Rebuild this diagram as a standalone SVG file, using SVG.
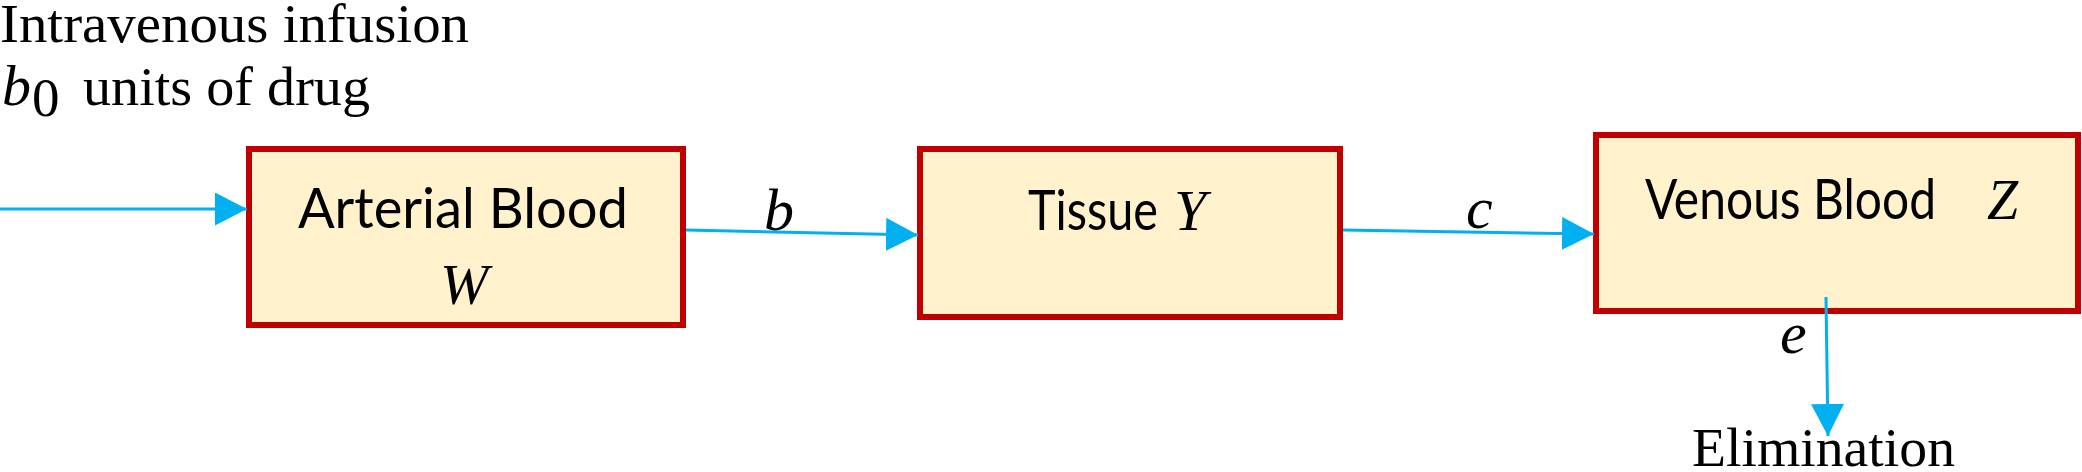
<svg xmlns="http://www.w3.org/2000/svg" width="2082" height="472" viewBox="0 0 2082 472">
<style>
.box{fill:#FFF2CC;stroke:#C00000;stroke-width:6}
.lbl{font-family:Lato,"Liberation Sans",sans-serif;font-size:57px;fill:#000}
.math{font-family:"Liberation Serif","DejaVu Serif",serif;font-style:italic;fill:#000}
.rom{font-family:"Liberation Serif","Times New Roman",serif;font-size:55px;fill:#000}
.conn{stroke:#00B0F0;stroke-width:3;fill:none}
</style>
<defs>
<marker id="ah" markerUnits="userSpaceOnUse" markerWidth="32" markerHeight="33" refX="32" refY="16.5" orient="auto">
<path d="M0,0 L32,16.5 L0,33 z" fill="#00B0F0"/>
</marker>
</defs>
<rect width="2082" height="472" fill="#FFFFFF"/>
<g id="input-label">
<text class="rom" x="0" y="42" textLength="469" lengthAdjust="spacingAndGlyphs">Intravenous infusion</text>
<text class="math" x="2" y="105" font-size="58">b</text>
<text class="rom" x="32" y="116" font-size="36">0</text>
<text class="rom" x="83" y="105" textLength="287" lengthAdjust="spacingAndGlyphs">units of drug</text>
</g>
<g id="arterial">
<rect class="box" x="249" y="149" width="434" height="176"/>
<text class="lbl" x="298" y="228" textLength="330" lengthAdjust="spacingAndGlyphs">Arterial Blood</text>
<text class="math" x="440" y="304" font-size="58">W</text>
</g>
<g id="tissue">
<rect class="box" x="920" y="149" width="420" height="168"/>
<text class="lbl" x="1028" y="230" textLength="130" lengthAdjust="spacingAndGlyphs">Tissue</text>
<text class="math" x="1174" y="230" font-size="58">Y</text>
</g>
<g id="venous">
<rect class="box" x="1596" y="135" width="482" height="176"/>
<text class="lbl" x="1645" y="219" textLength="291" lengthAdjust="spacingAndGlyphs">Venous Blood</text>
<text class="math" x="1987" y="219" font-size="56">Z</text>
</g>
<g id="elimination">
<text class="rom" x="1692" y="466" textLength="263" lengthAdjust="spacingAndGlyphs">Elimination</text>
</g>
<g id="connectors">
<line class="conn" x1="0" y1="209" x2="247" y2="209" marker-end="url(#ah)"/>
<line class="conn" x1="686" y1="230" x2="918" y2="235" marker-end="url(#ah)"/>
<line class="conn" x1="1343" y1="230" x2="1594" y2="234" marker-end="url(#ah)"/>
<line class="conn" x1="1826" y1="297" x2="1828" y2="436" marker-end="url(#ah)"/>
<text class="math" x="764" y="230" font-size="60">b</text>
<text class="math" x="1466" y="228" font-size="60">c</text>
<text class="math" x="1780" y="353" font-size="60">e</text>
</g>
</svg>
